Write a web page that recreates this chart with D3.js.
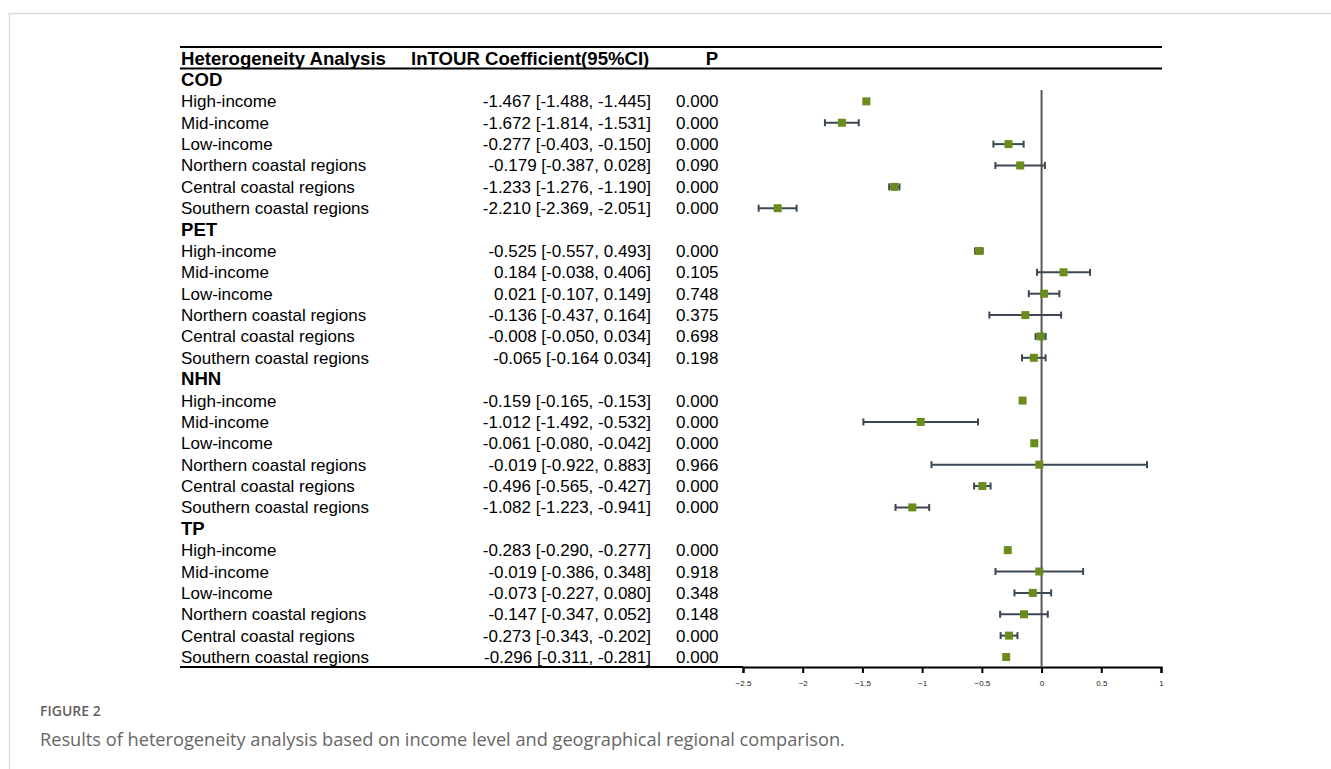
<!DOCTYPE html>
<html>
<head>
<meta charset="utf-8">
<script src="https://cdn.jsdelivr.net/npm/d3@7"></script>
<style>
  html, body { margin: 0; padding: 0; background: #fff; }
  svg { display: block; }
</style>
</head>
<body>
<svg id="chart" width="1331" height="769"></svg>
<script>
// ── Données ───────────────────────────────────────────────
const groups = ['COD', 'PET', 'NHN', 'TP'];
const subgroups = ['High-income', 'Mid-income', 'Low-income',
  'Northern coastal regions', 'Central coastal regions', 'Southern coastal regions'];

const estimates = [
  -1.467, -1.672, -0.277, -0.179, -1.233, -2.210,
  -0.525,  0.184,  0.021, -0.136, -0.008, -0.065,
  -0.159, -1.012, -0.061, -0.019, -0.496, -1.082,
  -0.283, -0.019, -0.073, -0.147, -0.273, -0.296
];
const lower = [
  -1.488, -1.814, -0.403, -0.387, -1.276, -2.369,
  -0.557, -0.038, -0.107, -0.437, -0.050, -0.164,
  -0.165, -1.492, -0.080, -0.922, -0.565, -1.223,
  -0.290, -0.386, -0.227, -0.347, -0.343, -0.311
];
const upper = [
  -1.445, -1.531, -0.150,  0.028, -1.190, -2.051,
  -0.493,  0.406,  0.149,  0.164,  0.034,  0.034,
  -0.153, -0.532, -0.042,  0.883, -0.427, -0.941,
  -0.277,  0.348,  0.080,  0.052, -0.202, -0.281
];
// texte tel qu'imprimé dans la figure
const ciText = [
  '-1.467 [-1.488, -1.445]', '-1.672 [-1.814, -1.531]', '-0.277 [-0.403, -0.150]',
  '-0.179 [-0.387, 0.028]', '-1.233 [-1.276, -1.190]', '-2.210 [-2.369, -2.051]',
  '-0.525 [-0.557, 0.493]', '0.184 [-0.038, 0.406]', '0.021 [-0.107, 0.149]',
  '-0.136 [-0.437, 0.164]', '-0.008 [-0.050, 0.034]', '-0.065 [-0.164 0.034]',
  '-0.159 [-0.165, -0.153]', '-1.012 [-1.492, -0.532]', '-0.061 [-0.080, -0.042]',
  '-0.019 [-0.922, 0.883]', '-0.496 [-0.565, -0.427]', '-1.082 [-1.223, -0.941]',
  '-0.283 [-0.290, -0.277]', '-0.019 [-0.386, 0.348]', '-0.073 [-0.227, 0.080]',
  '-0.147 [-0.347, 0.052]', '-0.273 [-0.343, -0.202]', '-0.296 [-0.311, -0.281]'
];
const pValues = [
  '0.000', '0.000', '0.000', '0.090', '0.000', '0.000',
  '0.000', '0.105', '0.748', '0.375', '0.698', '0.198',
  '0.000', '0.000', '0.000', '0.966', '0.000', '0.000',
  '0.000', '0.918', '0.348', '0.148', '0.000', '0.000'
];
const xTicks = [-2.5, -2, -1.5, -1, -0.5, 0, 0.5, 1];

// ── Construction des lignes ───────────────────────────────
const rows = [];
groups.forEach((g, gi) => {
  rows.push({ key: g, header: true, label: g });
  subgroups.forEach((s, si) => {
    const i = gi * subgroups.length + si;
    rows.push({ key: g + '-' + s, header: false, label: s,
      est: estimates[i], lo: lower[i], hi: upper[i], ci: ciText[i], p: pValues[i] });
  });
});

const svg = d3.select('#chart');
const FONT = 'Liberation Sans, Arial, sans-serif';
const LEFT = 180, RIGHT = 1162;
const HFS = 18.6;

// cadre gris de la page
svg.append('path')
  .attr('d', 'M9.5,775 V13.5 H1340')
  .attr('fill', 'none').attr('stroke', '#dcdcdc').attr('stroke-width', 1.5);

const x = d3.scaleLinear().domain([-2.5, 1]).range([743, 1161]);
const y = d3.scalePoint().domain(rows.map(r => r.key)).range([80, 657]);
const BASE = 6;

// ── Tableau ───────────────────────────────────────────────
const hdr = svg.append('g').attr('font-family', FONT).attr('font-weight', 'bold')
  .attr('font-size', HFS).attr('fill', '#000');
hdr.append('text').attr('x', 181).attr('y', 65).text('Heterogeneity Analysis');
hdr.append('text').attr('x', 411).attr('y', 65).text('lnTOUR Coefficient(95%CI)');
hdr.append('text').attr('x', 712).attr('y', 65).attr('text-anchor', 'middle').text('P');

svg.append('line').attr('x1', LEFT).attr('x2', RIGHT).attr('y1', 47).attr('y2', 47)
  .attr('stroke', '#000').attr('stroke-width', 2);
svg.append('line').attr('x1', LEFT).attr('x2', RIGHT).attr('y1', 68.5).attr('y2', 68.5)
  .attr('stroke', '#000').attr('stroke-width', 2);

const tbl = svg.append('g').attr('font-family', FONT).attr('fill', '#000');
tbl.selectAll('.lab').data(rows).join('text')
  .attr('class', 'lab')
  .attr('x', 181)
  .attr('y', d => y(d.key) + BASE)
  .attr('font-size', d => d.header ? HFS : 17)
  .attr('font-weight', d => d.header ? 'bold' : 'normal')
  .text(d => d.label);

const dataRows = rows.filter(r => !r.header);
tbl.selectAll('.ci').data(dataRows).join('text')
  .attr('class', 'ci')
  .attr('x', 651).attr('y', d => y(d.key) + BASE)
  .attr('text-anchor', 'end').attr('font-size', 17)
  .text(d => d.ci);
tbl.selectAll('.pv').data(dataRows).join('text')
  .attr('class', 'pv')
  .attr('x', 676).attr('y', d => y(d.key) + BASE)
  .attr('font-size', 17)
  .text(d => d.p);

// ── Forest plot ───────────────────────────────────────────
svg.append('line').attr('x1', LEFT).attr('x2', 743).attr('y1', 667).attr('y2', 667)
  .attr('stroke', '#000').attr('stroke-width', 2);

const axis = svg.append('g').attr('transform', 'translate(0,667)')
  .call(d3.axisBottom(x).tickValues(xTicks).tickSize(6).tickPadding(7)
    .tickFormat(d3.format('')));
axis.select('.domain').attr('stroke', '#000').attr('stroke-width', 2);
axis.selectAll('line').attr('stroke', '#000').attr('stroke-width', 2);
axis.selectAll('text').attr('font-family', FONT).attr('font-size', 8).attr('fill', '#222');

svg.append('line')
  .attr('x1', x(0)).attr('x2', x(0)).attr('y1', 90).attr('y2', 667)
  .attr('stroke', '#5a5656').attr('stroke-width', 2);

const eb = svg.append('g').attr('stroke', '#3b4753').attr('stroke-width', 2);
eb.selectAll('.bar').data(dataRows).join('line')
  .attr('class', 'bar')
  .attr('x1', d => x(d.lo)).attr('x2', d => x(d.hi))
  .attr('y1', d => y(d.key)).attr('y2', d => y(d.key));
eb.selectAll('.capL').data(dataRows).join('line')
  .attr('class', 'capL')
  .attr('x1', d => x(d.lo)).attr('x2', d => x(d.lo))
  .attr('y1', d => y(d.key) - 3.5).attr('y2', d => y(d.key) + 3.5);
eb.selectAll('.capR').data(dataRows).join('line')
  .attr('class', 'capR')
  .attr('x1', d => x(d.hi)).attr('x2', d => x(d.hi))
  .attr('y1', d => y(d.key) - 3.5).attr('y2', d => y(d.key) + 3.5);

const S = 8;
svg.selectAll('.pt').data(dataRows).join('rect')
  .attr('class', 'pt')
  .attr('x', d => x(d.est) - S / 2).attr('y', d => y(d.key) - S / 2)
  .attr('width', S).attr('height', S)
  .attr('fill', '#6a8c1c');

// ── Légende de figure ─────────────────────────────────────
svg.append('text').attr('x', 40).attr('y', 716)
  .attr('font-family', 'Open Sans, Lato, sans-serif').attr('font-size', 14)
  .attr('font-weight', 600).attr('fill', '#5f5f5f').text('FIGURE 2');
svg.append('text').attr('x', 40).attr('y', 746)
  .attr('font-family', 'Open Sans, Lato, sans-serif').attr('font-size', 18.2)
  .attr('fill', '#666')
  .text('Results of heterogeneity analysis based on income level and geographical regional comparison.');
</script>
</body>
</html>
